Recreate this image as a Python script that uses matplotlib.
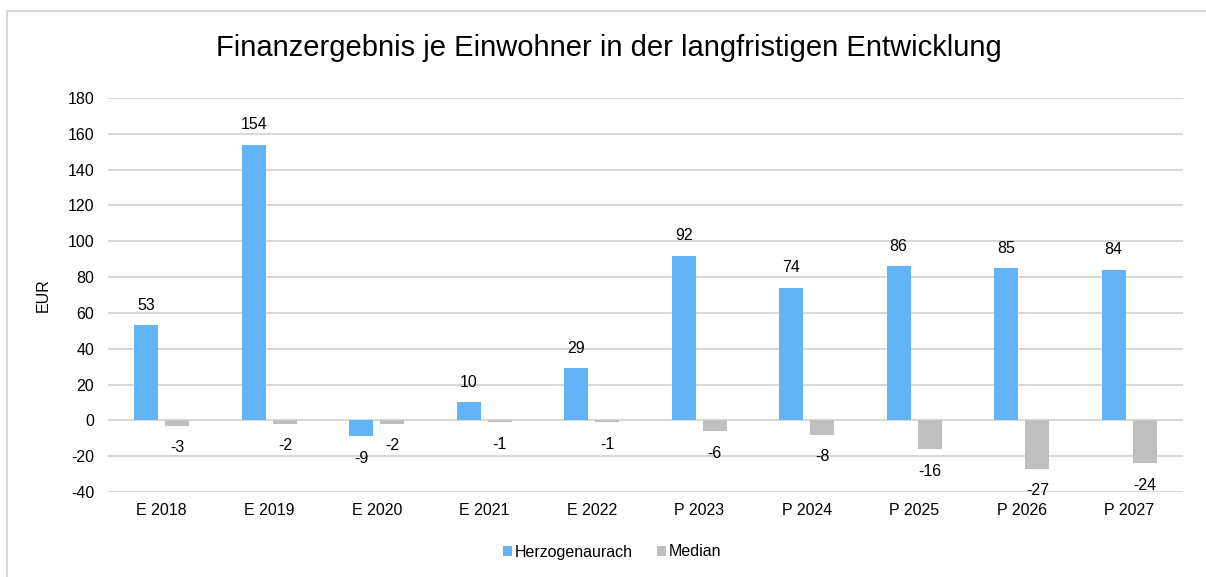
import matplotlib
matplotlib.use("Agg")
import matplotlib.pyplot as plt
from matplotlib.patches import Rectangle
import numpy as np

categories = ["E 2018", "E 2019", "E 2020", "E 2021", "E 2022",
              "P 2023", "P 2024", "P 2025", "P 2026", "P 2027"]
herzogenaurach = [53, 154, -9, 10, 29, 92, 74, 86, 85, 84]
median = [-3, -2, -2, -1, -1, -6, -8, -16, -27, -24]
series_names = ["Herzogenaurach", "Median"]
yticks = list(range(-40, 181, 20))

plt.rcParams['font.family'] = ['Liberation Sans', 'DejaVu Sans']

W, H = 1206, 577
fig = plt.figure(figsize=(W / 100, H / 100), dpi=100)
ax = fig.add_axes([108 / W, 1 - 492 / H, (1183 - 108) / W, (492 - 98) / H])

# frame around chart
fig.patches.append(Rectangle((7 / W, -0.1), 1.2, 1 - 11 / H + 0.1,
                             transform=fig.transFigure, fill=False,
                             edgecolor="#D9D9D9", linewidth=1.5))

x = np.arange(len(categories))
bw = 0.223
off = 0.145
blue = "#63B4F6"
gray = "#BFBFBF"
fs = 11.5
b1 = ax.bar(x - off, herzogenaurach, bw, color=blue, label=series_names[0], zorder=3)
b2 = ax.bar(x + off, median, bw, color=gray, label=series_names[1], zorder=3)

for xs, vals in ((x - off, herzogenaurach), (x + off, median)):
    for xi, v in zip(xs, vals):
        dy = 20 if v >= 0 else -22
        ax.annotate(str(v), (xi, v), xytext=(0, dy), textcoords="offset pixels",
                    ha="center", va="center", fontsize=fs, color="#000000")

ax.set_xlim(-0.5, len(categories) - 0.5)
ax.set_ylim(-40, 180)
ax.set_yticks(yticks)
ax.set_yticklabels([str(t) for t in yticks], fontsize=fs)
ax.set_xticks(x)
ax.set_xticklabels(categories, fontsize=fs)
ax.tick_params(axis="both", length=0)
ax.tick_params(axis="x", pad=8)
ax.tick_params(axis="y", pad=10)
ax.yaxis.grid(True, color="#D9D9D9", linewidth=1.5, zorder=0)
ax.set_axisbelow(True)
for s in ax.spines.values():
    s.set_visible(False)
ax.set_ylabel("EUR", fontsize=fs, labelpad=12)

fig.text(609 / W, 1 - 48 / H, "Finanzergebnis je Einwohner in der langfristigen Entwicklung",
         ha="center", va="center", fontsize=21)

fig.legend(handles=[b1, b2], loc="center", bbox_to_anchor=(612 / W, 1 - 552 / H),
           ncol=2, frameon=False, fontsize=fs, handlelength=0.55, handleheight=0.55,
           handletextpad=0.2, columnspacing=1.5)

fig.savefig("out.png", dpi=100, facecolor="white")
